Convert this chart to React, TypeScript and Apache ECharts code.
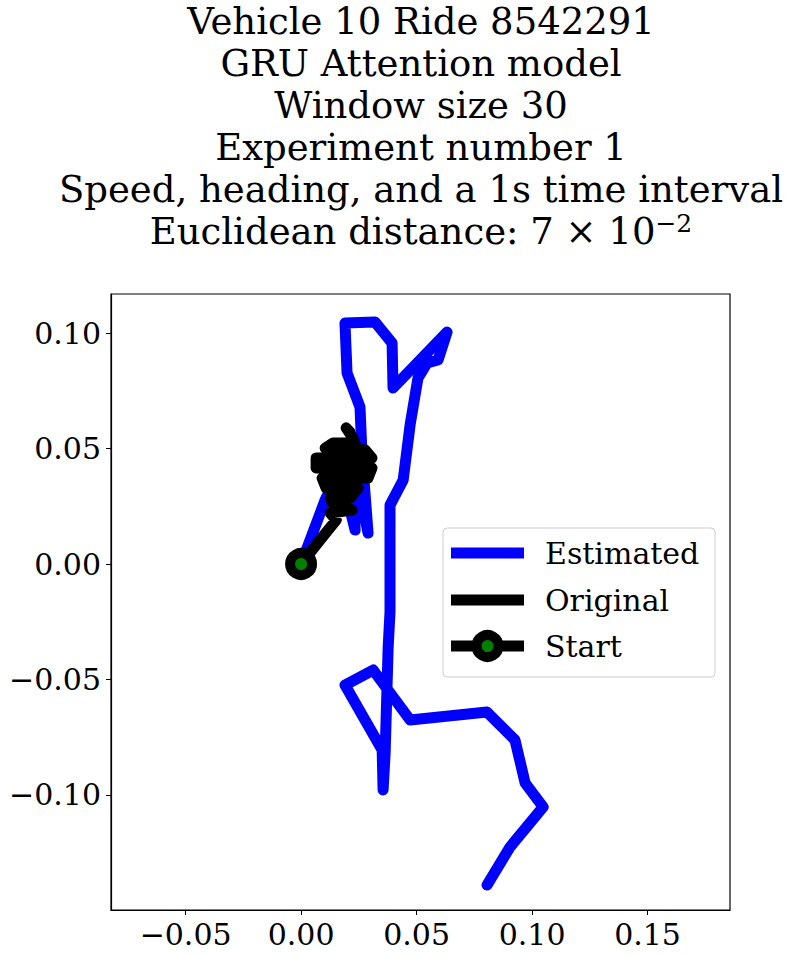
import React, { useEffect, useRef } from 'react';
import * as echarts from 'echarts';

// estimated trajectory (blue)
const estimatedX = [
  0, 0.0104, 0.0169, 0.0234, 0.0221, 0.029, 0.0264, 0.0255, 0.0199, 0.019, 0.032, 0.0394,
  0.0398, 0.0632, 0.0593, 0.0545, 0.0506, 0.0472, 0.0442, 0.0385, 0.0385, 0.0377, 0.0364,
  0.0355, 0.0351, 0.019, 0.0312, 0.0472, 0.0805, 0.0926, 0.097, 0.1048, 0.0905, 0.0805,
];
const estimatedY = [
  0, 0.0277, 0.0407, 0.0147, 0.0472, 0.0134, 0.0472, 0.068, 0.0827, 0.1043, 0.1048, 0.0957,
  0.0762, 0.1004, 0.0883, 0.087, 0.0805, 0.0602, 0.0364, 0.0255, -0.0208, -0.0359, -0.0818,
  -0.0978, -0.0805, -0.0524, -0.0459, -0.0675, -0.0641, -0.0762, -0.0948, -0.1052, -0.1225,
  -0.139,
];

// original trajectory (black), a dense scribble near the start
const originalX = [
  0, 0.0082, 0.0152, 0.0126, 0.0221, 0.019, 0.0139, 0.0126, 0.0212, 0.0247, 0.0108, 0.0091,
  0.029, 0.0307, 0.0065, 0.0065, 0.0307, 0.0277, 0.0221, 0.0104, 0.0139, 0.0212, 0.0242,
  0.0225, 0.0195, 0.0212,
];
const originalY = [
  0, 0.0104, 0.019, 0.0221, 0.0234, 0.0247, 0.0255, 0.0286, 0.0286, 0.0329, 0.0329, 0.0372,
  0.0372, 0.0416, 0.0416, 0.0459, 0.0459, 0.0494, 0.0502, 0.0502, 0.0524, 0.0524, 0.0494,
  0.0545, 0.0589, 0.0571,
];

const startPoint = [0, 0];
const xTicks = [-0.05, 0, 0.05, 0.1, 0.15];
const yTicks = [-0.1, -0.05, 0, 0.05, 0.1];

const titleLines = [
  'Vehicle 10 Ride 8542291',
  'GRU Attention model',
  'Window size 30',
  'Experiment number 1',
  'Speed, heading, and a 1s time interval',
];
const distanceLabel = 'Euclidean distance: 7 × 10';
const distanceExp = '−2';

const legendNames = ['Estimated', 'Original', 'Start'];

const FONT = '"DejaVu Serif", serif';

const fmt = (v: number) => (v < 0 ? '−' : '') + Math.abs(v).toFixed(2);

const App: React.FC = () => {
  const chartRef = useRef<HTMLDivElement>(null);

  useEffect(() => {
    document.body.style.margin = '0';
    if (!chartRef.current) return;
    const chart = echarts.init(chartRef.current, undefined, { renderer: 'svg' });

    const titleText =
      titleLines.map((l) => `{t|${l}}`).join('\n') + `\n{t|${distanceLabel}}{s|${distanceExp}}`;

    const lx = 451;
    const rows = [553, 600, 646];

    const option: echarts.EChartsOption = {
      animation: false,
      backgroundColor: '#fff',
      grid: {
        left: 111,
        top: 294,
        right: 64,
        bottom: 47,
        show: true,
        borderColor: '#000',
        borderWidth: 1.2,
      },
      xAxis: {
        type: 'value',
        min: -0.0823,
        max: 0.1857,
        splitLine: { show: false },
        axisLine: { show: true, onZero: false, lineStyle: { color: '#000', width: 1.2 } },
        axisTick: {
          show: true,
          length: 5,
          lineStyle: { color: '#000' },
          customValues: xTicks,
        },
        axisLabel: {
          customValues: xTicks,
          formatter: fmt,
          fontFamily: FONT,
          fontSize: 30,
          color: '#000',
          margin: 9,
        },
      },
      yAxis: {
        type: 'value',
        min: -0.1498,
        max: 0.1169,
        splitLine: { show: false },
        axisLine: { show: true, onZero: false, lineStyle: { color: '#000', width: 1.2 } },
        axisTick: {
          show: true,
          length: 5,
          lineStyle: { color: '#000' },
          customValues: yTicks,
        },
        axisLabel: {
          customValues: yTicks,
          formatter: fmt,
          fontFamily: FONT,
          fontSize: 30,
          color: '#000',
          margin: 10,
        },
      },
      series: [
        {
          name: 'Estimated',
          type: 'line',
          data: estimatedX.map((x, i) => [x, estimatedY[i]]),
          showSymbol: false,
          lineStyle: { color: '#0000ff', width: 11, cap: 'round', join: 'round' },
          z: 2,
        },
        {
          name: 'Original',
          type: 'line',
          data: originalX.map((x, i) => [x, originalY[i]]),
          showSymbol: false,
          lineStyle: { color: '#000', width: 11, cap: 'round', join: 'round' },
          z: 3,
        },
        {
          name: 'Start',
          type: 'scatter',
          data: [startPoint],
          symbolSize: 22,
          itemStyle: { color: '#008000', borderColor: '#000', borderWidth: 10, opacity: 1 },
          z: 4,
        },
      ],
      graphic: [
        {
          type: 'text',
          x: 421,
          y: 0,
          style: {
            text: titleText,
            align: 'center',
            verticalAlign: 'top',
            fill: '#000',
            rich: {
              t: { fontFamily: FONT, fontSize: 37, lineHeight: 42, fill: '#000' },
              s: {
                fontFamily: FONT,
                fontSize: 25,
                lineHeight: 24,
                padding: [0, 0, 16, 0],
                fill: '#000',
              },
            },
          },
        },
        {
          type: 'group',
          z: 10,
          children: [
            {
              type: 'rect',
              shape: { x: 443, y: 528, width: 272, height: 149, r: 4 },
              style: { fill: 'rgba(255,255,255,0.8)', stroke: '#cccccc', lineWidth: 1 },
            },
            {
              type: 'line',
              shape: { x1: lx, y1: rows[0], x2: lx + 73, y2: rows[0] },
              style: { stroke: '#0000ff', lineWidth: 11 },
            },
            {
              type: 'line',
              shape: { x1: lx, y1: rows[1], x2: lx + 73, y2: rows[1] },
              style: { stroke: '#000', lineWidth: 11 },
            },
            {
              type: 'line',
              shape: { x1: lx, y1: rows[2], x2: lx + 73, y2: rows[2] },
              style: { stroke: '#000', lineWidth: 11 },
            },
            {
              type: 'circle',
              shape: { cx: lx + 36.5, cy: rows[2], r: 11 },
              style: { fill: '#008000', stroke: '#000', lineWidth: 10 },
            },
            ...legendNames.map((name, i) => ({
              type: 'text' as const,
              x: 545,
              y: rows[i],
              style: {
                text: name,
                fontFamily: FONT,
                fontSize: 30,
                fill: '#000',
                verticalAlign: 'middle' as const,
              },
            })),
          ],
        },
      ],
    };

    chart.setOption(option);

    return () => {
      chart.dispose();
    };
  }, []);

  return <div ref={chartRef} style={{ width: '794px', height: '957px' }} />;
};

export default App;
